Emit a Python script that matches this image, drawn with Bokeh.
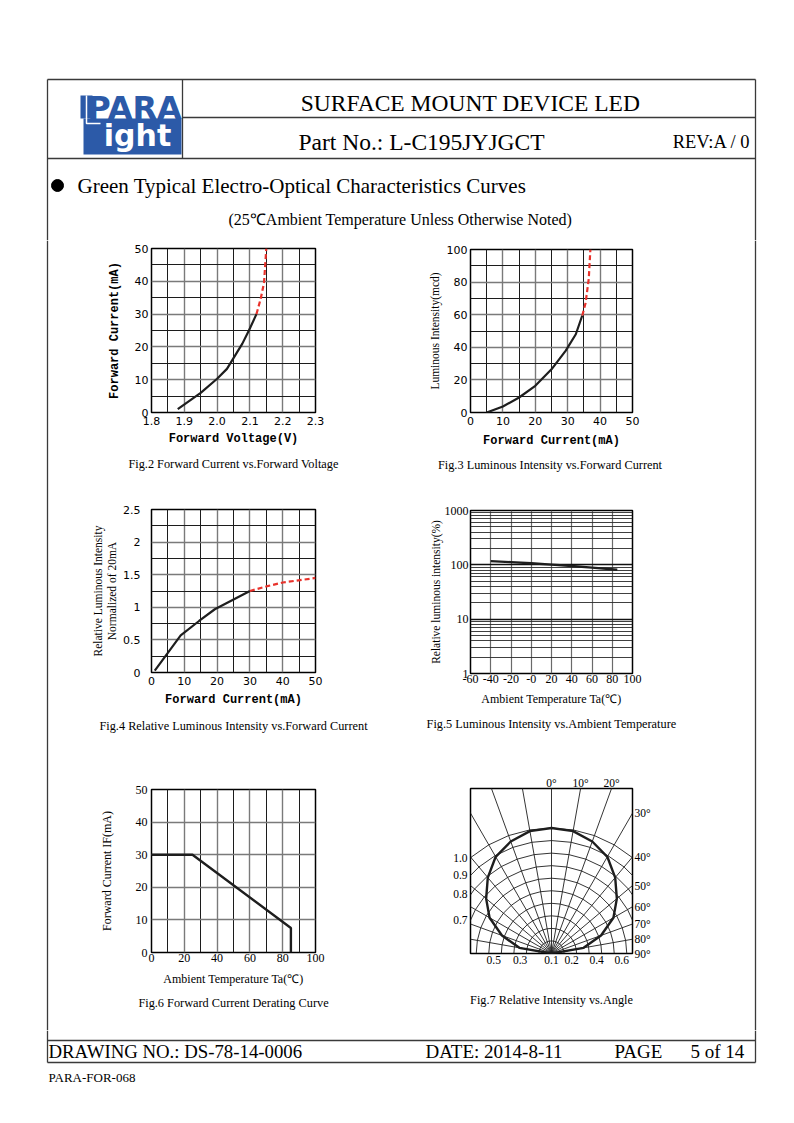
import math
from bokeh.plotting import figure
from bokeh.layouts import column, row
from bokeh.models import Range1d, FixedTicker, Title, LinearAxis
from bokeh.core.properties import value
from bokeh.embed import file_html
from bokeh.resources import INLINE

# ---------------- data ----------------
# Fig.2 Forward Current vs. Forward Voltage
fig2_vf_solid = [1.88, 1.95, 2.00, 2.03, 2.077, 2.097, 2.12]
fig2_if_solid = [1.0, 6.0, 10.3, 13.3, 21.0, 25.0, 30.0]
fig2_vf_dash = [2.12, 2.133, 2.143, 2.15]
fig2_if_dash = [30.0, 34.7, 39.5, 50.0]
fig2_xticks = [1.8, 1.9, 2.0, 2.1, 2.2, 2.3]
fig2_xlabels = ["1.8", "1.9", "2.0", "2.1", "2.2", "2.3"]
fig2_yticks = [0, 10, 20, 30, 40, 50]

# Fig.3 Luminous Intensity vs. Forward Current
fig3_if_solid = [5, 10, 15, 20, 25, 29.4, 32.5, 34.5]
fig3_iv_solid = [0, 3.7, 9.2, 16.4, 26.5, 38, 48, 59.5]
fig3_if_dash = [34.5, 35.5, 36.5, 37.0]
fig3_iv_dash = [59.5, 67, 82, 100]
fig3_xticks = [0, 10, 20, 30, 40, 50]
fig3_yticks = [0, 20, 40, 60, 80, 100]

# Fig.4 Relative Luminous Intensity vs. Forward Current
fig4_if_solid = [1, 8.9, 14.5, 19.3, 30]
fig4_rel_solid = [0.03, 0.57, 0.79, 0.97, 1.25]
fig4_if_dash = [30, 35, 40, 50]
fig4_rel_dash = [1.25, 1.32, 1.38, 1.45]
fig4_xticks = [0, 10, 20, 30, 40, 50]
fig4_yticks = [0, 0.5, 1, 1.5, 2, 2.5]
fig4_ylabels = ["0", "0.5", "1", "1.5", "2", "2.5"]

# Fig.5 Luminous Intensity vs. Ambient Temperature
fig5_ta = [-40, -20, 0, 20, 40, 60, 85]
fig5_rel = [117, 112, 107, 101, 95, 89, 81]
fig5_xticks = [-60, -40, -20, 0, 20, 40, 60, 80, 100]
fig5_xlabels = ["-60", "-40", "-20", "-0", "20", "40", "60", "80", "100"]
fig5_yticks = [1, 10, 100, 1000]

# Fig.6 Forward Current Derating Curve
fig6_ta = [0, 25, 85, 85]
fig6_if = [30, 30, 7.5, 0]
fig6_xticks = [0, 20, 40, 60, 80, 100]
fig6_yticks = [0, 10, 20, 30, 40, 50]

# Fig.7 Relative Intensity vs. Angle
fig7_angles = [0, 10, 20, 30, 40, 50, 60, 70, 80, 90]
fig7_rel = [1.0, 0.99, 0.95, 0.89, 0.79, 0.68, 0.57, 0.42, 0.26, 0.0]
fig7_grid_radii = [0.1, 0.2, 0.3, 0.4, 0.5, 0.6, 0.7, 0.8, 0.9, 1.0]
fig7_left_labels = [1.0, 0.9, 0.8, 0.7]
fig7_right_angles = [30, 40, 50, 60, 70, 80, 90]
fig7_top_angles = [0, 10, 20]
fig7_bottom_labels = ["0.5", "0.3", "0.1", "0.2", "0.4", "0.6"]

# ---------------- styles ----------------
FRAME = "#3a3a3a"
INK = "#1e1e1e"
BLUE = "#2c5aa8"
RED = "#e8322b"
SERIF = "Liberation Serif"
SANS = "DejaVu Sans"
MONO = "Liberation Mono"


def page_fig(w, h, x0, x1, y0, y1):
    p = figure(width=w, height=h, x_range=Range1d(x0, x1), y_range=Range1d(y1, y0),
               output_backend="svg", toolbar_location=None,
               x_axis_location=None, y_axis_location=None, min_border=0)
    p.xgrid.grid_line_color = None
    p.ygrid.grid_line_color = None
    p.outline_line_color = None
    p.background_fill_color = "white"
    p.border_fill_color = "white"
    return p


def txt(p, x, y, s, size, font=SERIF, align="left", color="black", style="normal"):
    p.text(x=[x], y=[y], text=[s], text_font=value(font), text_font_size=size,
           text_align=align, text_baseline="middle", text_color=color, text_font_style=style)


def chart(w, h, fl, fw, ft, fh, xr, yr, ylog=False):
    p = figure(width=w, height=h, x_range=Range1d(*xr), y_range=Range1d(*yr),
               y_axis_type="log" if ylog else "linear",
               output_backend="svg", toolbar_location=None,
               min_border_left=fl, min_border_right=w - fl - fw,
               min_border_top=ft, min_border_bottom=h - ft - fh)
    p.outline_line_color = "black"
    p.outline_line_width = 1.5
    p.background_fill_color = "white"
    p.border_fill_color = "white"
    return p


def style_axis(ax, ticks, labels, font, size, standoff, minor=None,
               label=None, label_font=SERIF, label_size="12px", label_style="normal", label_standoff=5):
    ax.ticker = FixedTicker(ticks=ticks, minor_ticks=minor or [])
    ax.major_label_overrides = {t: l for t, l in zip(ticks, labels)}
    ax.major_label_text_font = font
    ax.major_label_text_font_size = size
    ax.major_label_text_color = "black"
    ax.major_label_standoff = standoff
    ax.axis_line_color = None
    ax.major_tick_line_color = None
    ax.minor_tick_line_color = None
    ax.major_tick_out = 0
    ax.major_tick_in = 0
    ax.minor_tick_out = 0
    if label is not None:
        ax.axis_label = label
        ax.axis_label_text_font = label_font
        ax.axis_label_text_font_size = label_size
        ax.axis_label_text_font_style = label_style
        ax.axis_label_text_color = "black"
        ax.axis_label_standoff = label_standoff


def mids(t):
    return [(a + b) / 2 for a, b in zip(t, t[1:])]


def grids(p, major="#7a7a7a", minor="#1c1c1c", width=1.4):
    for g in (p.xgrid, p.ygrid):
        g.grid_line_color = major
        g.grid_line_width = width
        g.minor_grid_line_color = minor
        g.minor_grid_line_width = 1.0


def caption(p, s, standoff):
    p.add_layout(Title(text=s, align="center", text_font=SERIF, text_font_size="12.3px",
                       text_font_style="normal", text_color="black", standoff=standoff), "below")


# ---------------- header (page y 0..240) ----------------
hdr = page_fig(786, 240, 0, 786, 0, 240)
hdr.segment(x0=[47, 755, 47, 182, 182, 47], y0=[79, 79, 79, 79, 117, 158],
            x1=[47, 755, 755, 182, 755, 755], y1=[240, 240, 79, 158, 117, 158],
            line_color=FRAME, line_width=1.3)
# logo
hdr.quad(left=[83], right=[181], top=[118], bottom=[154], fill_color=BLUE, line_color=None)
hdr.quad(left=[80], right=[92], top=[95], bottom=[118], fill_color=BLUE, line_color=None)
hdr.line(x=[86, 86, 100], y=[95, 123, 123], line_color="white", line_width=1.5)
txt(hdr, 134, 107, "PARA", "32px", font=SANS, align="center", color=BLUE, style="bold")
txt(hdr, 137, 135, "ight", "30px", font=SANS, align="center", color="white", style="bold")
# titles
txt(hdr, 470, 102, "SURFACE MOUNT DEVICE LED", "23.5px", align="center")
txt(hdr, 298, 141, "Part No.: L-C195JYJGCT", "23.5px")
txt(hdr, 750, 141, "REV:A / 0", "18.5px", align="right")
hdr.scatter(x=[57], y=[185], size=12, color="black")
txt(hdr, 77, 185, "Green Typical Electro-Optical Characteristics Curves", "21px")
txt(hdr, 228, 219, "(25\u2103Ambient Temperature Unless Otherwise Noted)", "16px")

# ---------------- side strips (page y 240..1030) ----------------
lstrip = page_fig(60, 790, 0, 60, 240, 1030)
lstrip.segment(x0=[47], y0=[240], x1=[47], y1=[1030], line_color=FRAME, line_width=1.3)
rstrip = page_fig(86, 790, 700, 786, 240, 1030)
rstrip.segment(x0=[755], y0=[240], x1=[755], y1=[1030], line_color=FRAME, line_width=1.3)

# ---------------- Fig.2 ----------------
p2 = chart(320, 250, 91, 164, 8, 164, (1.8, 2.3), (0, 50))
style_axis(p2.xaxis[0], fig2_xticks, fig2_xlabels, SANS, "11px", 4, minor=mids(fig2_xticks),
           label="Forward Voltage(V)", label_font=MONO, label_style="bold", label_standoff=4)
style_axis(p2.yaxis[0], fig2_yticks, [str(v) for v in fig2_yticks], SANS, "11px", 3, minor=mids(fig2_yticks),
           label="Forward Current(mA)", label_font=MONO, label_style="bold", label_standoff=10)
grids(p2)
p2.line(fig2_vf_solid, fig2_if_solid, line_color=INK, line_width=2.2)
p2.line(fig2_vf_dash, fig2_if_dash, line_color=RED, line_width=2.2, line_dash="5 3")
caption(p2, "Fig.2 Forward Current vs.Forward Voltage", 12)

# ---------------- Fig.3 ----------------
p3 = chart(320, 250, 90, 164, 9, 163, (0, 50), (0, 100))
style_axis(p3.xaxis[0], fig3_xticks, [str(v) for v in fig3_xticks], SANS, "11px", 4, minor=mids(fig3_xticks),
           label="Forward Current(mA)", label_font=MONO, label_style="bold", label_standoff=6)
style_axis(p3.yaxis[0], fig3_yticks, [str(v) for v in fig3_yticks], SANS, "11px", 3, minor=mids(fig3_yticks),
           label="Luminous Intensity(mcd)", label_font=SERIF, label_size="11.5px", label_standoff=3)
grids(p3)
p3.line(fig3_if_solid, fig3_iv_solid, line_color=INK, line_width=2.2)
p3.line(fig3_if_dash, fig3_iv_dash, line_color=RED, line_width=2.2, line_dash="5 3")
caption(p3, "Fig.3  Luminous Intensity vs.Forward Current", 10)

# ---------------- Fig.4 ----------------
p4 = chart(320, 275, 91, 164, 19, 163, (0, 50), (0, 2.5))
style_axis(p4.xaxis[0], fig4_xticks, [str(v) for v in fig4_xticks], SANS, "11px", 4, minor=mids(fig4_xticks),
           label="Forward Current(mA)", label_font=MONO, label_style="bold", label_standoff=5)
style_axis(p4.yaxis[0], fig4_yticks, fig4_ylabels, SANS, "11px", 11, minor=mids(fig4_yticks),
           label="Relative Luminous Intensity\nNormalized of 20mA", label_font=SERIF, label_size="11.5px",
           label_standoff=2)
grids(p4)
p4.line(fig4_if_solid, fig4_rel_solid, line_color=INK, line_width=2.2)
p4.line(fig4_if_dash, fig4_rel_dash, line_color=RED, line_width=2.2, line_dash="5 3")
caption(p4, "Fig.4 Relative Luminous Intensity vs.Forward Current", 14)

# ---------------- Fig.5 ----------------
p5 = chart(320, 275, 90, 164, 20, 163, (-60, 100), (1, 1000), ylog=True)
style_axis(p5.xaxis[0], fig5_xticks, fig5_xlabels, SERIF, "12px", 1,
           label="Ambient Temperature Ta(\u2103)", label_font=SERIF, label_size="12px", label_standoff=6)
log_minor = [k * 10 ** e for e in range(3) for k in range(2, 10)]
style_axis(p5.yaxis[0], fig5_yticks, [str(v) for v in fig5_yticks], SERIF, "12px", 2, minor=log_minor,
           label="Relative luminous intensity(%)", label_font=SERIF, label_size="11.5px", label_standoff=0)
p5.xgrid.grid_line_color = "#6a6a6a"
p5.xgrid.grid_line_width = 1.2
p5.ygrid.grid_line_color = "#111111"
p5.ygrid.grid_line_width = 1.7
p5.ygrid.minor_grid_line_color = "#2a2a2a"
p5.ygrid.minor_grid_line_width = 0.9
p5.line(fig5_ta, fig5_rel, line_color=INK, line_width=2.4)
caption(p5, "Fig.5 Luminous Intensity vs.Ambient Temperature", 13)

# ---------------- Fig.6 ----------------
p6 = chart(320, 265, 91, 164, 24, 163, (0, 100), (0, 50))
style_axis(p6.xaxis[0], fig6_xticks, [str(v) for v in fig6_xticks], SERIF, "12px", 1, minor=mids(fig6_xticks),
           label="Ambient Temperature Ta(\u2103)", label_font=SERIF, label_size="12px", label_standoff=7)
style_axis(p6.yaxis[0], fig6_yticks, [str(v) for v in fig6_yticks], SERIF, "12px", 4,
           label="Forward Current IF(mA)", label_font=SERIF, label_size="12px", label_standoff=19)
grids(p6)
p6.line(fig6_ta, fig6_if, line_color=INK, line_width=2.4)
caption(p6, "Fig.6 Forward Current Derating Curve", 10)

# ---------------- Fig.7 ----------------
R_PX = 127.0
FW7, FH7 = 164, 167
xl = FW7 / 2 / R_PX
ytop = FH7 / R_PX
p7 = chart(320, 265, 88, FW7, 23, FH7, (-xl, xl), (0, ytop))
p7.xgrid.grid_line_color = None
p7.ygrid.grid_line_color = None
rad = [math.radians(a) for a in range(-80, 90, 10)]
p7.segment(x0=[0] * len(rad), y0=[0] * len(rad), x1=[3 * math.sin(t) for t in rad],
           y1=[3 * math.cos(t) for t in rad], line_color=INK, line_width=0.9)
arc_t = [math.radians(a) for a in range(-90, 91, 10)]
p7.multi_line(xs=[[r * math.sin(t) for t in arc_t] for r in fig7_grid_radii],
              ys=[[r * math.cos(t) for t in arc_t] for r in fig7_grid_radii],
              line_color=INK, line_width=0.9)
full_ang = [-a for a in reversed(fig7_angles[1:])] + fig7_angles
full_rel = list(reversed(fig7_rel[1:])) + fig7_rel
p7.line([r * math.sin(math.radians(a)) for a, r in zip(full_ang, full_rel)],
        [r * math.cos(math.radians(a)) for a, r in zip(full_ang, full_rel)],
        line_color=INK, line_width=2.4)
left_pos = [round(math.sqrt(max(r * r - xl * xl, 0)), 6) for r in fig7_left_labels]
style_axis(p7.left[0], left_pos, ["%.1f" % r for r in fig7_left_labels], SERIF, "11.5px", 3)
bottom_pos = [-0.46, -0.25, 0.0, 0.16, 0.36, 0.56]
style_axis(p7.below[0], bottom_pos, fig7_bottom_labels, SERIF, "11.5px", 2)
right_pos = [round(xl / math.tan(math.radians(a)), 6) if a < 90 else 0.0 for a in fig7_right_angles]
ax_r = LinearAxis()
p7.add_layout(ax_r, "right")
style_axis(ax_r, right_pos, ["%d\u00b0" % a for a in fig7_right_angles], SERIF, "11.5px", 2)
top_pos = [round(ytop * math.tan(math.radians(a)), 6) for a in fig7_top_angles]
ax_t = LinearAxis()
p7.add_layout(ax_t, "above")
style_axis(ax_t, top_pos, ["%d\u00b0" % a for a in fig7_top_angles], SERIF, "11.5px", 0)
caption(p7, "Fig.7 Relative Intensity vs.Angle", 48)

# ---------------- footer (page y 1030..1090) ----------------
ftr = page_fig(786, 60, 0, 786, 1030, 1090)
ftr.segment(x0=[47, 755, 47, 47], y0=[1030, 1030, 1040, 1062], x1=[47, 755, 755, 755], y1=[1062, 1062, 1040, 1062],
            line_color=FRAME, line_width=1.3)
txt(ftr, 48, 1051, "DRAWING NO.: DS-78-14-0006", "18.8px")
txt(ftr, 425, 1051, "DATE: 2014-8-11", "19px")
txt(ftr, 614, 1051, "PAGE", "19px")
txt(ftr, 690, 1051, "5 of 14", "19px")
txt(ftr, 48, 1077, "PARA-FOR-068", "13px")

middle = row(lstrip, column(p2, p4, p6), column(p3, p5, p7), rstrip)
page = column(hdr, middle, ftr)

open("out.html", "w").write(file_html(page, INLINE))
